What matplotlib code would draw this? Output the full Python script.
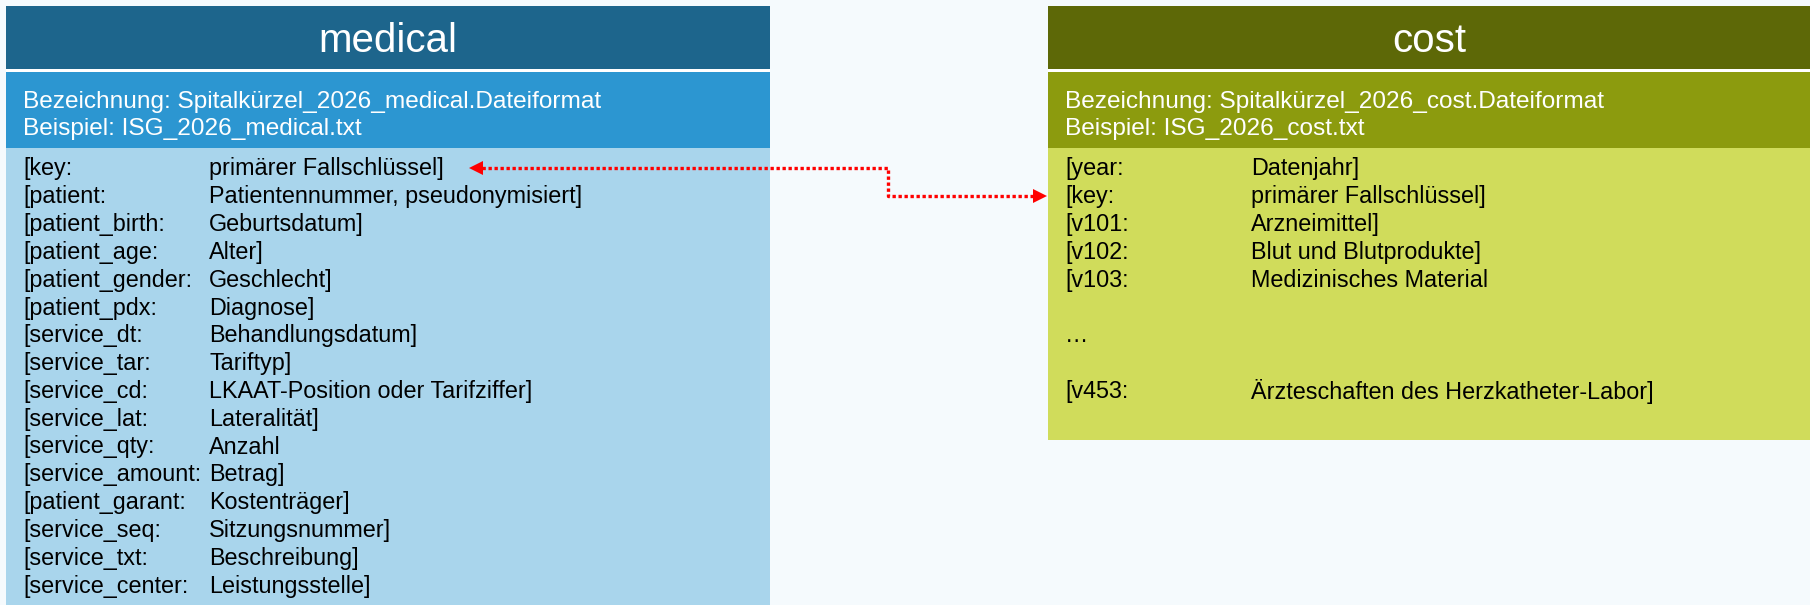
import matplotlib.pyplot as plt
from matplotlib.patches import Rectangle

# table names and file naming lines
titles = ["medical", "cost"]
naming = [
    ["Bezeichnung: Spitalkürzel_2026_medical.Dateiformat", "Beispiel: ISG_2026_medical.txt"],
    ["Bezeichnung: Spitalkürzel_2026_cost.Dateiformat", "Beispiel: ISG_2026_cost.txt"],
]

# field lists (variable, description)
medical_vars = ["[key:", "[patient:", "[patient_birth:", "[patient_age:", "[patient_gender:",
                "[patient_pdx:", "[service_dt:", "[service_tar:", "[service_cd:", "[service_lat:",
                "[service_qty:", "[service_amount:", "[patient_garant:", "[service_seq:",
                "[service_txt:", "[service_center:"]
medical_desc = ["primärer Fallschlüssel]", "Patientennummer, pseudonymisiert]", "Geburtsdatum]",
                "Alter]", "Geschlecht]", "Diagnose]", "Behandlungsdatum]", "Tariftyp]",
                "LKAAT-Position oder Tarifziffer]", "Lateralität]", "Anzahl", "Betrag]",
                "Kostenträger]", "Sitzungsnummer]", "Beschreibung]", "Leistungsstelle]"]

cost_vars = ["[year:", "[key:", "[v101:", "[v102:", "[v103:", "", "…", "", "[v453:"]
cost_desc = ["Datenjahr]", "primärer Fallschlüssel]", "Arzneimittel]", "Blut und Blutprodukte]",
             "Medizinisches Material", "", "", "", "Ärzteschaften des Herzkatheter-Labor]"]

# join: key row in medical <-> key row in cost
link_rows = (medical_vars.index("[key:"), cost_vars.index("[key:"))

plt.rcParams['font.family'] = ['Liberation Sans', 'DejaVu Sans']

fig = plt.figure(figsize=(18.1, 6.05), dpi=100)
fig.patch.set_facecolor('#F5FAFD')
ax = fig.add_axes([0, 0, 1, 1])
ax.set_xlim(0, 1810)
ax.set_ylim(605, 0)
ax.axis('off')

boxes = [
    dict(x0=6, x1=770, bottom=605, colors=('#1D658C', '#2C96D1', '#A9D5EC'),
         vars=medical_vars, desc=medical_desc, col2=209),
    dict(x0=1048, x1=1810, bottom=440, colors=('#5D6807', '#8C9B0E', '#D0DC5B'),
         vars=cost_vars, desc=cost_desc, col2=1251),
]

row0, row_h = 169, 27.8

for i, b in enumerate(boxes):
    w = b['x1'] - b['x0']
    ax.add_patch(Rectangle((b['x0'], 6), w, 63, color=b['colors'][0], lw=0))
    ax.add_patch(Rectangle((b['x0'], 72), w, 76, color=b['colors'][1], lw=0))
    ax.add_patch(Rectangle((b['x0'], 148), w, b['bottom'] - 148, color=b['colors'][2], lw=0))
    ax.add_patch(Rectangle((b['x0'], 69), w, 3, color='white', lw=0))
    ax.text((b['x0'] + b['x1']) / 2, 41, titles[i], color='white', fontsize=29,
            ha='center', va='center')
    for j, line in enumerate(naming[i]):
        ax.text(b['x0'] + 17, 102 + j * 27, line, color='white', fontsize=17.6, va='center')
    for j, (v, d) in enumerate(zip(b['vars'], b['desc'])):
        y = row0 + j * row_h
        ax.text(b['x0'] + 17, y, v, color='black', fontsize=16.8, va='center')
        ax.text(b['col2'], y, d, color='black', fontsize=16.8, va='center')

# dotted elbow connector between the key fields
y_left = row0 + link_rows[0] * row_h - 1
y_right = row0 + link_rows[1] * row_h - 1
xs = [476, 888, 888, 1040]
ys = [y_left, y_left, y_right, y_right]
ax.plot(xs, ys, color='#FF0000', lw=2.4, linestyle=(0, (1, 0.8)), solid_capstyle='butt')
ax.plot([xs[0]], [ys[0]], marker='<', color='#FF0000', markersize=10, markeredgewidth=0)
ax.plot([xs[-1]], [ys[-1]], marker='>', color='#FF0000', markersize=10, markeredgewidth=0)

fig.savefig("out.png", dpi=100, facecolor=fig.get_facecolor())
